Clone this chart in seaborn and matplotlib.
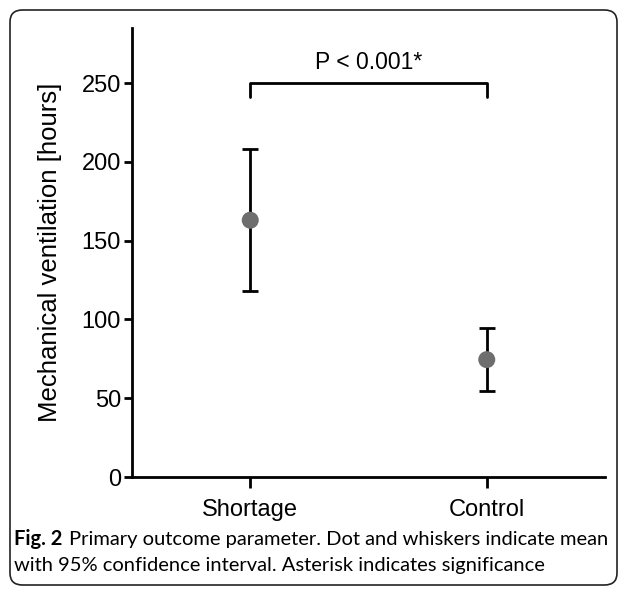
import matplotlib
matplotlib.use("Agg")
import matplotlib.pyplot as plt
import seaborn as sns
import pandas as pd
from matplotlib.patches import FancyBboxPatch

# Data
groups = ["Shortage", "Control"]
means = [163, 74.5]
ci_low = [118, 54.5]
ci_high = [208, 94.5]
p_text = "P < 0.001*"
bracket_y = 250

sns.set_theme(style="ticks")
plt.rcParams["font.family"] = ["Liberation Sans", "DejaVu Sans"]
plt.rcParams["text.color"] = "black"

df = pd.DataFrame({"group": groups, "mean": means, "low": ci_low, "high": ci_high})

fig = plt.figure(figsize=(6.27, 5.95), dpi=100)
ax = fig.add_axes([132 / 627, 1 - 477 / 595, (605 - 132) / 627, (477 - 28) / 595])

# whiskers (95% CI)
xpos = range(len(groups))
ax.errorbar(list(xpos), df["mean"],
            yerr=[df["mean"] - df["low"], df["high"] - df["mean"]],
            fmt="none", ecolor="black", elinewidth=2, capsize=5.5, capthick=2, zorder=2)
# means
sns.scatterplot(data=df, x="group", y="mean", ax=ax, color="#6e6e6e", s=150,
                edgecolor="none", zorder=3)

ax.set_xlim(-0.5, 1.5)
ax.set_ylim(0, 285)
ax.set_yticks([0, 50, 100, 150, 200, 250])
ax.set_xticks(list(xpos))
ax.set_xticklabels(groups)
ax.set_xlabel("")
ax.set_ylabel("Mechanical ventilation [hours]", fontsize=18.5, labelpad=14, color="black")
ax.tick_params(axis="both", labelsize=17, width=2, colors="black")
ax.tick_params(axis="y", length=6, pad=2)
ax.tick_params(axis="x", length=8, pad=8)
sns.despine(ax=ax)
for s in ["left", "bottom"]:
    ax.spines[s].set_linewidth(2)
    ax.spines[s].set_color("black")

# significance bracket
ax.plot([0, 0, 1, 1], [bracket_y - 9, bracket_y, bracket_y, bracket_y - 9],
        color="black", lw=2, clip_on=False)
ax.text(0.5, bracket_y + 6, p_text, ha="center", va="bottom", fontsize=16.5)

# caption
cap_font = ["Lato", "DejaVu Sans"]
fig.text(14 / 627, 1 - 539 / 595, "Fig. 2", fontsize=14.5, fontweight="bold",
         family=cap_font, va="center", ha="left")
fig.text(69 / 627, 1 - 539 / 595, "Primary outcome parameter. Dot and whiskers indicate mean",
         fontsize=14.5, family=cap_font, va="center", ha="left")
fig.text(14 / 627, 1 - 566 / 595, "with 95% confidence interval. Asterisk indicates significance",
         fontsize=14.5, family=cap_font, va="center", ha="left")

# rounded frame around figure
frame = FancyBboxPatch((10 / 627, 10 / 595), 607 / 627, 575 / 595,
                       boxstyle="round,pad=0,rounding_size=0.02",
                       transform=fig.transFigure, fill=False, edgecolor="#222222", lw=1.2)
fig.patches.append(frame)

fig.savefig("out.png", dpi=100)
